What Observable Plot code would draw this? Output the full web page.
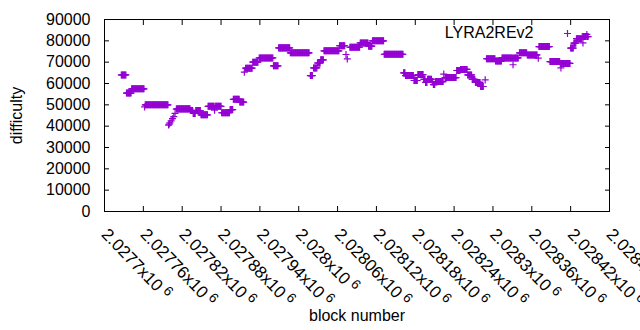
<!DOCTYPE html>
<html><head><meta charset="utf-8">
<script src="https://cdn.jsdelivr.net/npm/d3@7"></script>
<script src="https://cdn.jsdelivr.net/npm/@observablehq/plot@0.6"></script>
<style>
html,body{margin:0;padding:0;background:#fff;}
</style></head><body><div id="chart"></div>
<script>
const seriesName = "LYRA2REv2";
const xLabel = "block number";
const yLabel = "difficulty";

// runs of constant difficulty (first block, last block, difficulty)
const runStart = [2027726,2027734,2027742,2027762,2027763,2027799,2027800,2027801,2027803,2027805,2027807,2027809,2027811,2027812,2027833,2027837,2027841,2027849,2027860,2027870,2027871,2027881,2027894,2027899,2027909,2027916,2027918,2027929,2027939,2027961,2027969,2027987,2028018,2028023,2028029,2028034,2028039,2028063,2028073,2028075,2028079,2028095,2028108,2028114,2028132,2028162,2028165,2028178,2028184,2028193,2028196,2028199,2028206,2028208,2028211,2028224,2028226,2028244,2028250,2028261,2028268,2028273,2028281,2028288,2028290,2028304,2028314,2028331,2028332,2028341,2028353,2028370,2028371,2028388,2028404,2028405,2028406,2028420,2028425,2028429,2028438,2028439,2028440,2028445,2028446];
const runEnd   = [2027733,2027741,2027761,2027762,2027798,2027799,2027800,2027801,2027803,2027805,2027807,2027809,2027811,2027832,2027836,2027840,2027848,2027859,2027869,2027870,2027880,2027893,2027898,2027908,2027915,2027916,2027928,2027937,2027960,2027968,2027986,2028016,2028021,2028028,2028033,2028038,2028062,2028071,2028073,2028075,2028094,2028107,2028113,2028131,2028161,2028164,2028177,2028183,2028192,2028195,2028198,2028205,2028207,2028210,2028223,2028224,2028243,2028249,2028260,2028267,2028272,2028280,2028285,2028288,2028303,2028313,2028330,2028331,2028339,2028352,2028368,2028370,2028387,2028403,2028404,2028405,2028419,2028424,2028428,2028437,2028438,2028439,2028444,2028445,2028447];
const runDifficulty = [64000,55500,57500,49000,50000,40500,41000,41500,42500,43500,44500,46000,48000,48100,47300,46000,47300,45300,49300,47500,49300,46300,47800,52600,51300,65300,67200,70000,72000,68300,76700,74400,63700,67300,69600,71100,75300,77700,73600,71500,77000,79000,77500,80000,73700,65000,63700,61400,64200,62000,60500,62000,60900,59500,60900,64400,62800,66100,66600,64000,61900,60500,58600,61700,71600,70500,72000,68800,72000,74400,73400,71900,77300,70300,69400,67300,69400,76600,78900,81000,82000,79000,82000,83000,82000];

const xTicks = [2027700,2027760,2027820,2027880,2027940,2028000,2028060,2028120,2028180,2028240,2028300,2028360,2028420,2028480];
const yTicks = [0,10000,20000,30000,40000,50000,60000,70000,80000,90000];

const points = runStart.flatMap((s, i) =>
  d3.range(s, runEnd[i] + 1).map(block => ({block, difficulty: runDifficulty[i]})));

const color = "#9400d3";
const font = "'Liberation Sans', Arial, sans-serif";

const chart = Plot.plot({
  width: 640, height: 330,
  marginLeft: 104, marginRight: 31, marginTop: 19, marginBottom: 119,
  style: {fontFamily: font, fontSize: "16px", background: "#fff", color: "#000", overflow: "visible"},
  x: {domain: [2027700, 2028480]},
  y: {domain: [0, 90000]},
  marks: [
    Plot.dot(points, {x: "block", y: "difficulty", symbol: "plus", r: 2.4, stroke: color, strokeWidth: 1.2}),
    Plot.axisY(yTicks, {anchor: "left", tickSize: 0, tickPadding: 14, tickFormat: d => String(d), label: null}),
    Plot.axisY(yTicks, {anchor: "left", tickSize: -5, tickFormat: () => "", label: null}),
    Plot.axisY(yTicks, {anchor: "right", tickSize: -5, tickFormat: () => "", label: null}),
    Plot.axisX(xTicks, {anchor: "bottom", tickSize: 0, tickPadding: 20, tickRotate: 46, fontSize: 17,
      tickFormat: d => String(+(d / 1e6).toPrecision(6)) + "x10", label: null}),
    Plot.axisX(xTicks, {anchor: "bottom", tickSize: -5, tickFormat: () => "", label: null}),
    Plot.axisX(xTicks, {anchor: "top", tickSize: -5, tickFormat: () => "", label: null}),
    Plot.frame({stroke: "#000", strokeWidth: 1}),
    Plot.text([yLabel], {text: d => d, frameAnchor: "left", dx: -88, rotate: -90, textAnchor: "middle", lineAnchor: "middle", fontSize: 16}),
    Plot.text([xLabel], {text: d => d, frameAnchor: "bottom", dy: 104, textAnchor: "middle", lineAnchor: "middle", fontSize: 16}),
    Plot.text([seriesName], {text: d => d, frameAnchor: "top-right", dx: -76, dy: 13, textAnchor: "end", lineAnchor: "middle", fontSize: 16}),
    Plot.dot([seriesName], {frameAnchor: "top-right", dx: -42, dy: 14, symbol: "plus", r: 2.4, stroke: color, strokeWidth: 1.2})
  ]
});

// exponent as superscript, as in the original labels
chart.querySelectorAll('g[aria-label="x-axis tick label"] text').forEach(t => {
  if (!t.textContent) return;
  const sup = document.createElementNS("http://www.w3.org/2000/svg", "tspan");
  sup.setAttribute("dy", "-0.4em");
  sup.setAttribute("dx", "4");
  sup.setAttribute("font-size", "0.8em");
  sup.textContent = "6";
  t.appendChild(sup);
});

document.getElementById("chart").appendChild(chart);
</script>
</body></html>
